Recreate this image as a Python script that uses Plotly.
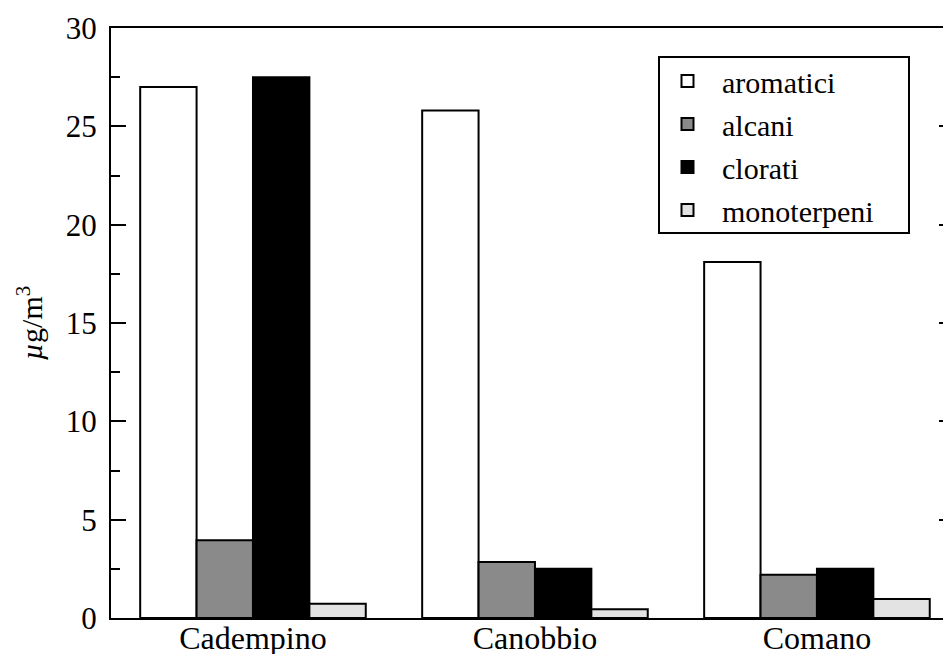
import plotly.graph_objects as go

sites = ["Cadempino", "Canobbio", "Comano"]
aromatici = [27.0, 25.8, 18.1]
alcani = [3.95, 2.85, 2.2]
clorati = [27.5, 2.5, 2.5]
monoterpeni = [0.72, 0.45, 0.97]

series_names = ["aromatici", "alcani", "clorati", "monoterpeni"]
series_values = [aromatici, alcani, clorati, monoterpeni]
series_colors = ["#ffffff", "#8a8a8a", "#000000", "#e3e3e3"]

y_ticks = [0, 5, 10, 15, 20, 25, 30]

FONT = "Liberation Serif"

W, H = 943, 654
ML, MR, MT, MB = 111, 0, 28, 36
PW, PH = W - ML - MR, H - MT - MB


def px_x(p):
    return (p - ML) / PW


def px_y(p):
    return (H - MB - p) / PH


fig = go.Figure()
for i, (name, vals, col) in enumerate(zip(series_names, series_values, series_colors)):
    fig.add_trace(go.Bar(
        x=sites, y=vals, name=name, legendgroup=name,
        marker=dict(color=col, line=dict(color="#000000", width=2)),
    ))

# invisible trace for the right-hand tick axis
fig.add_trace(go.Scatter(x=[], y=[], yaxis="y2", showlegend=False, hoverinfo="skip"))

# legend frame
fig.add_shape(type="rect", xref="paper", yref="paper",
              x0=px_x(659), x1=px_x(909), y0=px_y(233), y1=px_y(57),
              line=dict(color="#000000", width=2), fillcolor="white", layer="below")

fig.update_layout(
    width=W, height=H,
    margin=dict(l=ML, r=MR, t=MT, b=MB, autoexpand=False),
    paper_bgcolor="white", plot_bgcolor="white",
    font=dict(family=FONT, size=31, color="#000000"),
    barmode="group", bargap=0.2, bargroupgap=0,
    showlegend=True,
    legend=dict(
        x=px_x(653), y=px_y(55), xanchor="left", yanchor="top",
        borderwidth=0, bgcolor="rgba(0,0,0,0)",
        font=dict(family=FONT, size=30),
        traceorder="grouped", tracegroupgap=1,
        itemwidth=59,
    ),
    xaxis=dict(
        range=[-0.5035, 2.447], showline=True, linecolor="#000000", linewidth=2,
        mirror=True, ticks="", showgrid=False, zeroline=False, automargin=False,
        tickfont=dict(family=FONT, size=32),
        ticklabelstandoff=-9,
    ),
    yaxis=dict(
        range=[0, 30], tickvals=y_ticks, ticks="inside", ticklen=15, tickwidth=2,
        tickcolor="#000000", showline=True, linecolor="#000000", linewidth=2,
        showgrid=False, zeroline=False, mirror=False, automargin=False,
        minor=dict(ticks="inside", ticklen=9, tickwidth=2, tickcolor="#000000", dtick=2.5, tick0=0),
        tickfont=dict(family=FONT, size=31),
        title=dict(text="<i>µ</i>g/m<sup>3</sup>", font=dict(family=FONT, size=30), standoff=14),
        ticklabelstandoff=6,
    ),
    yaxis2=dict(
        range=[0, 30], overlaying="y", side="right", anchor="x",
        tickvals=y_ticks[1:-1], ticks="inside", ticklen=4, tickwidth=2, tickcolor="#000000",
        showticklabels=False, showline=False, showgrid=False, zeroline=False,
    ),
)

fig.write_html("out.html")
